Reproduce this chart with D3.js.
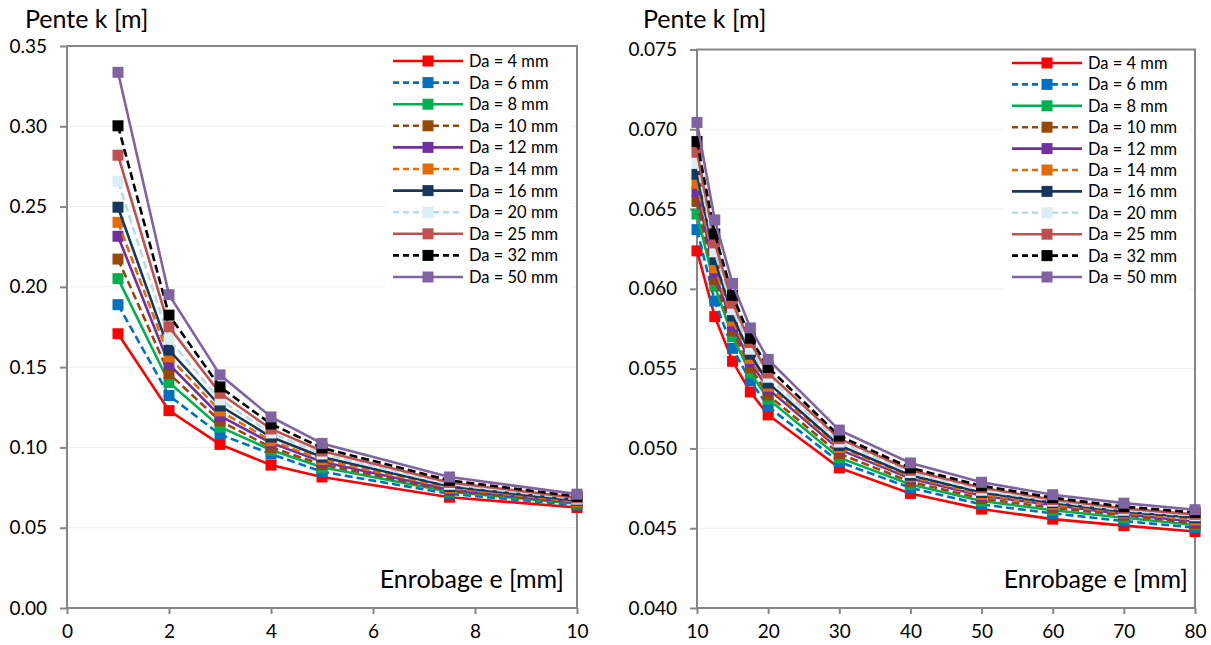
<!DOCTYPE html>
<html>
<head>
<meta charset="utf-8">
<script src="https://cdn.jsdelivr.net/npm/d3@7"></script>
<style>
  body { margin: 0; background: #fff; }
  svg { display: block; font-family: Lato, "Open Sans", sans-serif; }
</style>
</head>
<body>
<svg id="chart" width="1211" height="645"></svg>
<script>
// series labels and styles
var daLabels = ["Da = 4 mm", "Da = 6 mm", "Da = 8 mm", "Da = 10 mm", "Da = 12 mm", "Da = 14 mm",
    "Da = 16 mm", "Da = 20 mm", "Da = 25 mm", "Da = 32 mm", "Da = 50 mm"];
var lineColors = ["#ff0000", "#0070c0", "#00b050", "#974706", "#7030a0", "#e36c09",
    "#17375e", "#b7dee8", "#c0504d", "#000000", "#8064a2"];
var markerColors = ["#ff0000", "#0070c0", "#00b050", "#974706", "#7030a0", "#e36c09",
    "#17375e", "#dbeef4", "#c0504d", "#000000", "#8064a2"];
var dashed = [false, true, false, true, false, true, false, true, false, true, false];

// left chart: enrobage 1..10 mm
var eLeft = [1, 2, 3, 4, 5, 7.5, 10];
var kLeft = [
    [0.1708, 0.1229, 0.1019, 0.0890, 0.0816, 0.0690, 0.0626],
    [0.1889, 0.1323, 0.1081, 0.0959, 0.0849, 0.0711, 0.0641],
    [0.2051, 0.1404, 0.1128, 0.0984, 0.0876, 0.0724, 0.0649],
    [0.2173, 0.1460, 0.1165, 0.1000, 0.0894, 0.0730, 0.0655],
    [0.2315, 0.1518, 0.1196, 0.1028, 0.0911, 0.0736, 0.0658],
    [0.2402, 0.1564, 0.1227, 0.1042, 0.0924, 0.0747, 0.0661],
    [0.2496, 0.1606, 0.1259, 0.1065, 0.0940, 0.0757, 0.0670],
    [0.2658, 0.1674, 0.1296, 0.1090, 0.0959, 0.0770, 0.0678],
    [0.2820, 0.1751, 0.1337, 0.1115, 0.0978, 0.0782, 0.0686],
    [0.3003, 0.1824, 0.1377, 0.1146, 0.0997, 0.0795, 0.0695],
    [0.3336, 0.1951, 0.1452, 0.1190, 0.1025, 0.0816, 0.0709]
];
var xTicksLeft = [0, 2, 4, 6, 8, 10];
var yTicksLeft = [0, 0.05, 0.10, 0.15, 0.20, 0.25, 0.30, 0.35];

// right chart: enrobage 10..80 mm
var eRight = [10, 12.5, 15, 17.5, 20, 30, 40, 50, 60, 70, 80];
var kRight = [
    [0.06238, 0.05826, 0.05546, 0.05354, 0.05210, 0.04878, 0.04718, 0.04620, 0.04557, 0.04516, 0.04479],
    [0.06371, 0.05924, 0.05627, 0.05425, 0.05262, 0.04915, 0.04753, 0.04649, 0.04593, 0.04545, 0.04504],
    [0.06469, 0.06017, 0.05700, 0.05473, 0.05310, 0.04942, 0.04774, 0.04670, 0.04613, 0.04566, 0.04520],
    [0.06548, 0.06059, 0.05737, 0.05508, 0.05335, 0.04967, 0.04791, 0.04686, 0.04628, 0.04582, 0.04530],
    [0.06610, 0.06101, 0.05770, 0.05543, 0.05373, 0.04994, 0.04811, 0.04703, 0.04645, 0.04588, 0.04540],
    [0.06662, 0.06132, 0.05800, 0.05564, 0.05390, 0.05005, 0.04822, 0.04711, 0.04649, 0.04595, 0.04551],
    [0.06719, 0.06184, 0.05830, 0.05591, 0.05410, 0.05019, 0.04832, 0.04724, 0.04660, 0.04603, 0.04566],
    [0.06787, 0.06232, 0.05870, 0.05622, 0.05446, 0.05040, 0.04849, 0.04738, 0.04670, 0.04613, 0.04578],
    [0.06856, 0.06288, 0.05910, 0.05664, 0.05473, 0.05061, 0.04863, 0.04753, 0.04680, 0.04624, 0.04587],
    [0.06923, 0.06344, 0.05960, 0.05691, 0.05508, 0.05078, 0.04878, 0.04766, 0.04691, 0.04635, 0.04599],
    [0.07043, 0.06432, 0.06034, 0.05755, 0.05558, 0.05115, 0.04909, 0.04788, 0.04710, 0.04657, 0.04616]
];
var xTicksRight = [10, 20, 30, 40, 50, 60, 70, 80];
var yTicksRight = [0.040, 0.045, 0.050, 0.055, 0.060, 0.065, 0.070, 0.075];

var svg = d3.select("#chart");
var axisColor = "#868686";

function drawPanel(p) {
    var x = d3.scaleLinear().domain(p.xDomain).range([p.left, p.right]);
    var y = d3.scaleLinear().domain(p.yDomain).range([p.bottom, p.top]);
    var g = svg.append("g");

    // gridlines
    g.selectAll(".grid")
        .data(p.yTicks.slice(1, -1))
        .enter()
        .append("line")
        .attr("x1", p.left).attr("x2", p.right)
        .attr("y1", d => y(d)).attr("y2", d => y(d))
        .attr("stroke", "#efefef")
        .attr("stroke-width", 1);

    // legend background (drawn under the series, like excel)
    g.append("rect")
        .attr("x", p.legendX - 8)
        .attr("y", p.legendY - 13)
        .attr("width", p.right - p.legendX + 2)
        .attr("height", daLabels.length * p.legendStep + 6)
        .attr("fill", "#fff");

    // plot border
    g.append("rect")
        .attr("x", p.left).attr("y", p.top)
        .attr("width", p.right - p.left).attr("height", p.bottom - p.top)
        .attr("fill", "none")
        .attr("stroke", axisColor)
        .attr("stroke-width", 2);

    var yAxis = g.append("g")
        .attr("transform", "translate(" + p.left + ",0)")
        .call(d3.axisLeft(y).tickValues(p.yTicks).tickFormat(d3.format(p.yFormat)).tickSize(7).tickSizeOuter(0).tickPadding(13));
    var xAxis = g.append("g")
        .attr("transform", "translate(0," + p.bottom + ")")
        .call(d3.axisBottom(x).tickValues(p.xTicks).tickFormat(d3.format("d")).tickSize(6).tickSizeOuter(0).tickPadding(11));
    [yAxis, xAxis].forEach(a => {
        a.select(".domain").remove();
        a.selectAll(".tick line").attr("stroke", axisColor).attr("stroke-width", 2);
        a.selectAll(".tick text")
            .attr("fill", "#000")
            .style("font-family", "Lato, 'Open Sans', sans-serif")
            .style("font-size", "19px");
    });

    var line = d3.line()
        .x(d => x(d[0]))
        .y(d => y(d[1]));

    p.values.forEach((vals, i) => {
        var pts = vals.map((v, j) => [p.xs[j], v]);
        var s = g.append("g");
        s.append("path")
            .attr("d", line(pts))
            .attr("fill", "none")
            .attr("stroke", lineColors[i])
            .attr("stroke-width", 2.6)
            .attr("stroke-dasharray", dashed[i] ? "8,4" : null);
        s.selectAll("rect")
            .data(pts)
            .enter()
            .append("rect")
            .attr("x", d => x(d[0]) - 5.5)
            .attr("y", d => y(d[1]) - 5.5)
            .attr("width", 11)
            .attr("height", 11)
            .attr("fill", markerColors[i]);
    });

    // legend
    var leg = g.selectAll(".leg")
        .data(daLabels)
        .enter()
        .append("g")
        .attr("transform", (d, i) => "translate(" + p.legendX + "," + (p.legendY + i * p.legendStep) + ")");
    leg.append("line")
        .attr("x1", 0).attr("x2", 70)
        .attr("stroke", (d, i) => lineColors[i])
        .attr("stroke-width", 2.6)
        .attr("stroke-dasharray", (d, i) => dashed[i] ? "6,4" : null);
    leg.append("rect")
        .attr("x", 29.5).attr("y", -5.5)
        .attr("width", 11).attr("height", 11)
        .attr("fill", (d, i) => markerColors[i]);
    leg.append("text")
        .attr("x", 76)
        .attr("y", 6)
        .style("font-size", "16.5px")
        .text(d => d);

    // axis titles
    g.append("text")
        .attr("x", p.titleX)
        .attr("y", 28)
        .style("font-size", "25px")
        .text("Pente k [m]");
    g.append("text")
        .attr("x", p.xTitleEnd)
        .attr("y", 588)
        .attr("text-anchor", "end")
        .style("font-size", "25px")
        .text("Enrobage e [mm]");
}

drawPanel({
    left: 67, right: 577, top: 46, bottom: 608,
    xDomain: [0, 10], yDomain: [0, 0.35],
    xTicks: xTicksLeft, yTicks: yTicksLeft, yFormat: ".2f",
    xs: eLeft, values: kLeft,
    legendX: 393, legendY: 61, legendStep: 21.6,
    titleX: 25, xTitleEnd: 564
});
drawPanel({
    left: 697, right: 1195, top: 49.5, bottom: 608,
    xDomain: [10, 80], yDomain: [0.040, 0.075],
    xTicks: xTicksRight, yTicks: yTicksRight, yFormat: ".3f",
    xs: eRight, values: kRight,
    legendX: 1012, legendY: 63, legendStep: 21.4,
    titleX: 643, xTitleEnd: 1188
});
</script>
</body>
</html>
